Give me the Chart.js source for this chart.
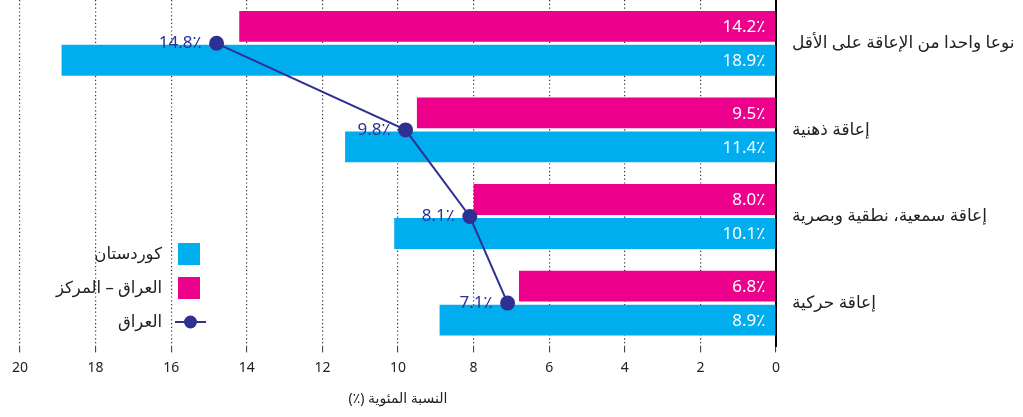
<!DOCTYPE html>
<html>
<head>
<meta charset="utf-8">
<script src="https://cdn.jsdelivr.net/npm/chart.js@4.4.1/dist/chart.umd.min.js"></script>
<style>
html,body{margin:0;padding:0;background:#fff;}
#wrap{width:1023px;height:417px;position:relative;}
</style>
</head>
<body>
<div id="wrap"><canvas id="c"></canvas></div>
<script>
const categories = ["نوعا واحدا من الإعاقة على الأقل", "إعاقة ذهنية", "إعاقة سمعية، نطقية وبصرية", "إعاقة حركية"];
const iraqCenter = [14.2, 9.5, 8.0, 6.8];
const kurdistan = [18.9, 11.4, 10.1, 8.9];
const iraq = [14.8, 9.8, 8.1, 7.1];
const seriesNames = ["العراق – المركز", "كوردستان", "العراق"];
const xTicks = [0, 2, 4, 6, 8, 10, 12, 14, 16, 18, 20];
const xTitle = "النسبة المئوية (٪)\u200F";

const MAGENTA = '#EC008C', CYAN = '#00AEEF', NAVY = '#2E3192';
const FONT = "'Noto Sans', 'DejaVu Sans', sans-serif";
Chart.defaults.font.family = FONT;
Chart.defaults.color = '#222';

const fmt = v => v.toFixed(1) + '٪';

const labelPlugin = {
  id: 'valueLabels',
  afterDatasetsDraw(chart) {
    const ctx = chart.ctx;
    ctx.save();
    ctx.font = '17px ' + FONT;
    ctx.textBaseline = 'middle';
    ctx.textAlign = 'right';
    chart.data.datasets.forEach((ds, di) => {
      const meta = chart.getDatasetMeta(di);
      meta.data.forEach((el, i) => {
        const v = ds.data[i];
        if (ds.type === 'line') {
          ctx.fillStyle = NAVY;
          ctx.fillText(fmt(v), el.x - 15, el.y);
        } else {
          ctx.fillStyle = '#fff';
          ctx.fillText(fmt(v), el.base - 10, el.y + 1);
        }
      });
    });
    ctx.restore();
  }
};

const legendPlugin = {
  id: 'customLegend',
  afterDraw(chart) {
    const ctx = chart.ctx;
    const order = [2, 1, 0];
    ctx.save();
    ctx.font = '16.5px ' + FONT;
    ctx.textBaseline = 'middle';
    ctx.textAlign = 'right';
    order.forEach((di, k) => {
      const ds = chart.data.datasets[di];
      const cy = 254 + k * 34;
      if (ds.type === 'line') {
        ctx.strokeStyle = ds.borderColor;
        ctx.lineWidth = 2;
        ctx.beginPath();
        ctx.moveTo(175, cy); ctx.lineTo(206, cy); ctx.stroke();
        ctx.fillStyle = ds.pointBackgroundColor;
        ctx.beginPath(); ctx.arc(190.5, cy, 6.5, 0, Math.PI * 2); ctx.fill();
      } else {
        ctx.fillStyle = ds.backgroundColor;
        ctx.fillRect(178, cy - 11, 22, 22);
      }
      ctx.fillStyle = '#222';
      ctx.fillText(ds.label, 162, cy);
    });
    ctx.restore();
  }
};

new Chart(document.getElementById('c'), {
  data: {
    labels: categories,
    datasets: [
      { type: 'line', label: seriesNames[2], data: iraq, borderColor: NAVY, backgroundColor: NAVY,
        pointBackgroundColor: NAVY, pointBorderColor: NAVY, pointRadius: 6.5, borderWidth: 2, order: 0, clip: false },
      { type: 'bar', label: seriesNames[0], data: iraqCenter, backgroundColor: MAGENTA, order: 1,
        barPercentage: 0.91, categoryPercentage: 0.784 },
      { type: 'bar', label: seriesNames[1], data: kurdistan, backgroundColor: CYAN, order: 1,
        barPercentage: 0.91, categoryPercentage: 0.784 }
    ]
  },
  options: {
    indexAxis: 'y',
    responsive: true,
    maintainAspectRatio: false,
    animation: false,
    layout: { autoPadding: false, padding: { left: 20, top: 0, right: 0, bottom: 10 } },
    plugins: { legend: { display: false }, tooltip: { enabled: false } },
    scales: {
      x: {
        type: 'linear',
        position: 'bottom',
        reverse: true,
        min: 0, max: 20,
        afterBuildTicks(scale) { scale.ticks = xTicks.map(v => ({ value: v })); },
        grid: { color: '#333', lineWidth: 1.2, drawTicks: true, tickLength: 6,
                tickColor: '#333', tickBorderDash: [], tickWidth: 1 },
        border: { display: false, dash: [1.2, 2.6] },
        ticks: { font: { size: 14 }, color: '#222', padding: 7, maxRotation: 0 },
        title: { display: true, text: xTitle, font: { size: 14 }, color: '#222', padding: { top: 7, bottom: 0 } }
      },
      y: {
        type: 'category',
        position: 'right',
        offset: true,
        grid: { display: false, drawTicks: false },
        border: { display: true, color: '#000', width: 2 },
        ticks: { crossAlign: 'near', padding: 16, font: { size: 17 }, color: '#222' },
        afterFit(scale) { scale.width = 247; scale.paddingTop = 0; scale.paddingBottom = 0; }
      }
    }
  },
  plugins: [labelPlugin, legendPlugin]
});
</script>
</body>
</html>
